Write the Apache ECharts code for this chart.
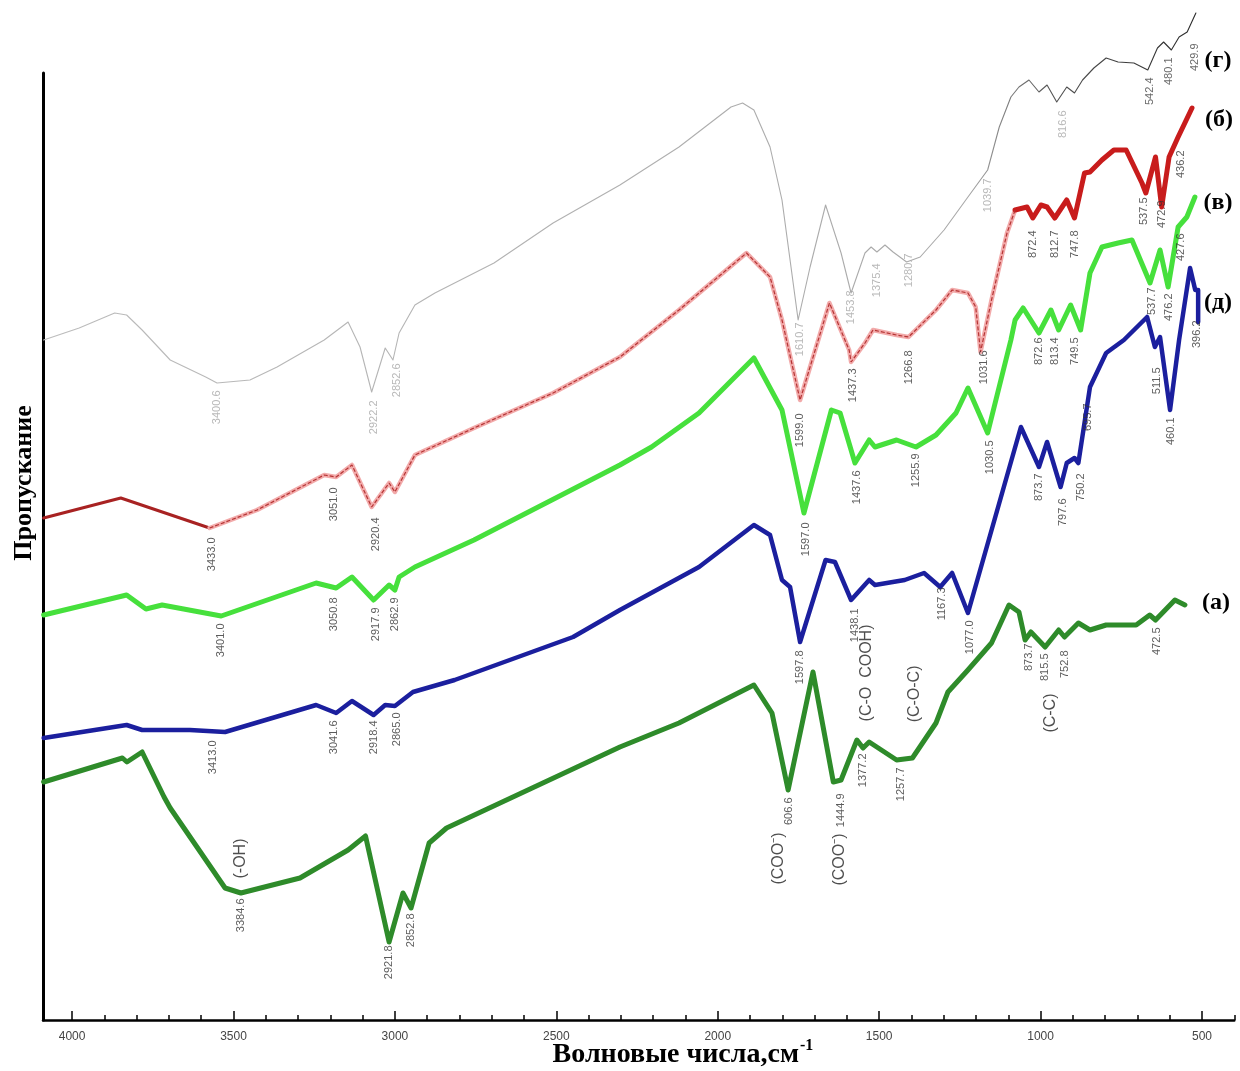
<!DOCTYPE html>
<html>
<head>
<meta charset="utf-8">
<title>ИК-спектры</title>
<script src="https://cdn.jsdelivr.net/npm/echarts@6/dist/echarts.min.js"></script>
<style>
html, body { margin: 0; padding: 0; background: #fff; }
#chartmain { width: 1240px; height: 1071px; }
</style>
</head>
<body>
<div id="chartmain"></div>
<script>
// спектры: [волновое число, пропускание (усл. ед.)]
var grayData = [[4088,680],[3978,692],[3868,707],[3831,705],[3783,690],[3696,660],[3586,643],[3551,637],[3449,640],[3365,653],[3219,680],[3145,698],[3108,673],[3072,628],[3030,672],[3006,660],[2987,687],[2938,715],[2876,727],[2693,757],[2510,797],[2303,835],[2120,873],[1959,913],[1923,917],[1888,910],[1838,873],[1801,820],[1751,700],[1714,753],[1666,815],[1618,767],[1587,727],[1544,767],[1525,773],[1507,768],[1482,775],[1457,768],[1415,758],[1373,763],[1299,790],[1225,823],[1164,850],[1128,893],[1092,923],[1067,933],[1036,940],[1005,928],[980,935],[950,918],[919,933],[895,927],[870,940],[835,952],[797,962],[760,958],[711,957],[668,950],[638,972],[619,978],[595,970],[571,983],[546,988],[519,1007]];

var redData = [[4088,502],[3849,522],[3574,492],[3427,510],[3219,545],[3182,543],[3133,555],[3072,513],[3018,537],[3000,528],[2938,565],[2755,592],[2510,627],[2303,663],[2120,710],[1911,767],[1838,743],[1801,700],[1745,620],[1654,717],[1593,670],[1587,658],[1544,677],[1519,690],[1446,685],[1409,683],[1324,710],[1274,730],[1225,727],[1201,713],[1186,668],[1152,720],[1104,787],[1079,810],[1042,813],[1024,802],[999,815],[980,813],[956,802],[919,820],[895,802],[864,847],[847,848],[810,860],[773,870],[735,870],[686,837],[674,827],[644,863],[625,813],[602,863],[574,883],[531,912]];

var lightGreenData = [[4088,405],[3831,425],[3771,411],[3721,415],[3538,404],[3244,437],[3182,432],[3133,443],[3066,420],[3018,435],[3000,430],[2987,443],[2938,453],[2755,480],[2303,555],[2205,573],[2058,607],[1888,662],[1801,610],[1733,507],[1648,610],[1621,607],[1575,557],[1531,580],[1513,573],[1446,580],[1386,573],[1324,585],[1262,607],[1225,632],[1164,587],[1092,680],[1079,700],[1054,712],[1005,687],[968,710],[944,690],[907,715],[876,690],[847,747],[810,773],[760,777],[717,780],[661,737],[630,770],[605,733],[574,793],[547,803],[522,823]];

var blueData = [[4088,282],[3831,295],[3783,290],[3635,290],[3526,288],[3244,315],[3182,307],[3133,319],[3066,305],[3030,315],[3000,314],[2944,328],[2815,340],[2448,383],[2303,410],[2058,453],[1888,495],[1838,485],[1801,440],[1776,433],[1745,378],[1666,460],[1637,458],[1587,420],[1531,440],[1513,435],[1421,440],[1361,447],[1311,433],[1274,447],[1225,407],[1061,593],[1005,553],[980,578],[938,533],[919,557],[895,562],[883,557],[847,633],[797,667],[742,680],[670,703],[646,673],[630,683],[599,610],[571,680],[537,752],[521,730],[512,730],[512,698]];

var darkGreenData = [[4088,238],[3844,262],[3830,258],[3783,268],[3715,223],[3696,212],[3526,132],[3477,127],[3294,142],[3145,170],[3091,184],[3018,78],[2975,127],[2950,112],[2894,177],[2840,192],[2303,273],[2120,297],[1888,335],[1832,307],[1782,230],[1705,348],[1642,238],[1618,240],[1569,280],[1550,272],[1531,278],[1446,260],[1397,262],[1324,297],[1287,328],[1225,350],[1152,377],[1098,415],[1067,408],[1048,380],[1030,388],[986,373],[944,390],[926,383],[883,397],[847,390],[797,395],[704,395],[662,405],[644,400],[584,420],[553,415]];

// подписи пиков: [волновое число, пропускание, текст]
var grayLabels = [[3551,630,'3400.6'],[3066,620,'2922.2'],[2993,657,'2852.6'],[1745,698,'1610.7'],[1587,730,'1453.8'],[1507,757,'1375.4'],[1409,767,'1280.7'],[1164,842,'1039.7'],[932,910,'816.6']];
var grayLabelsDark = [[661,943,'542.4'],[601,963,'480.1'],[521,977,'429.9']];
var redLabels = [[3568,483,'3433.0'],[3188,533,'3051.0'],[3060,503,'2920.4'],[1745,607,'1599.0'],[1581,652,'1437.3'],[1409,670,'1266.8'],[1176,670,'1031.6'],[1023,790,'872.4'],[956,790,'812.7'],[895,790,'747.8'],[681,823,'537.5'],[625,820,'472.9'],[565,870,'436.2']];
var lightGreenLabels = [[3538,397,'3401.0'],[3188,423,'3050.8'],[3060,413,'2917.9'],[3000,423,'2862.9'],[1727,498,'1597.0'],[1569,550,'1437.6'],[1386,567,'1255.9'],[1158,580,'1030.5'],[1005,683,'872.6'],[956,683,'813.4'],[895,683,'749.5'],[656,733,'537.7'],[602,727,'476.2'],[565,787,'427.6']];
var blueLabels = [[3563,280,'3413.0'],[3188,300,'3041.6'],[3066,300,'2918.4'],[2993,308,'2865.0'],[1745,370,'1597.8'],[1575,412,'1438.1'],[1305,433,'1167.3'],[1219,400,'1077.0'],[1005,547,'873.7'],[932,522,'797.6'],[876,547,'750.2'],[853,617,'695.7'],[638,653,'511.5'],[596,603,'460.1'],[515,700,'396.2']];
var darkGreenLabels = [[3477,122,'3384.6'],[3018,75,'2921.8'],[2950,107,'2852.8'],[1779,223,'606.6'],[1618,227,'1444.9'],[1550,267,'1377.2'],[1434,253,'1257.7'],[1036,377,'873.7'],[986,367,'815.5'],[926,370,'752.8'],[638,393,'472.5']];
var groupLabels = [[3477,182,'(-OH)'],[1813,188,'(COO\u207B)'],[1623,187,'(COO\u207B)'],[1540,396,'(C-O  COOH)'],[1389,355,'(C-O-C)'],[968,327,'(C-C)']];

var pie = echarts.init(document.getElementById('chartmain'));

var redLeft = redData.filter(function (d) { return d[0] >= 3574; });
var redMid = redData.filter(function (d) { return d[0] <= 3574 && d[0] >= 1079; });
var redRight = redData.filter(function (d) { return d[0] <= 1079; });

function line(data, color, width, extra) {
    var s = {
        type: 'line', data: data, symbol: 'none', clip: false, silent: true,
        lineStyle: { color: color, width: width, join: 'round', cap: 'round' },
        z: 3
    };
    for (var k in extra) s[k] = extra[k];
    return s;
}

function labels(arr, color, size, extra) {
    var lab = {
        show: true, formatter: function (p) { return p.name; },
        position: 'bottom', distance: 0, rotate: 90, align: 'right', verticalAlign: 'middle',
        color: color, fontSize: size, fontFamily: 'Liberation Sans'
    };
    for (var k in extra) lab[k] = extra[k];
    return {
        type: 'scatter', symbolSize: 1, clip: false, silent: true, z: 6,
        itemStyle: { color: 'transparent' },
        data: arr.map(function (d) { return { value: [d[0], d[1]], name: d[2] }; }),
        label: lab
    };
}

var grayGrad = new echarts.graphic.LinearGradient(0, 0, 1, 0, [
    { offset: 0, color: '#bcbcbc' },
    { offset: 0.8, color: '#a8a8a8' },
    { offset: 0.87, color: '#555555' },
    { offset: 1, color: '#2a2a2a' }
]);

var option = {
    animation: false,
    backgroundColor: '#fff',
    grid: [
        { left: 43, right: 5.7, top: 73, bottom: 51, outerBoundsMode: 'none' },
        { left: 43, right: 38, top: 73, bottom: 51, outerBoundsMode: 'none' }
    ],
    xAxis: [
        {
            gridIndex: 0, type: 'value', inverse: true, min: 400, max: 4090, interval: 100,
            axisLine: { show: true, lineStyle: { color: '#000', width: 2.5 } },
            axisTick: { show: true, inside: true, length: 5, lineStyle: { color: '#000', width: 1.5 } },
            axisLabel: { show: false },
            splitLine: { show: false }
        },
        {
            gridIndex: 1, type: 'value', inverse: true, min: 500, max: 4090, interval: 500,
            axisLine: { show: false },
            axisTick: { show: true, inside: true, length: 9, lineStyle: { color: '#000', width: 1.5 } },
            axisLabel: {
                show: true, showMaxLabel: false, color: '#444', fontSize: 12, fontFamily: 'Liberation Sans', margin: 11,
                formatter: function (v) { return String(v); }
            },
            splitLine: { show: false }
        }
    ],
    yAxis: [
        {
            gridIndex: 0, type: 'value', min: 0, max: 947, position: 'left',
            axisLine: { show: true, onZero: false, lineStyle: { color: '#000', width: 3 } },
            axisTick: { show: false }, axisLabel: { show: false }, splitLine: { show: false }
        },
        {
            gridIndex: 1, type: 'value', min: 0, max: 947, show: false
        }
    ],
    series: [
        line(grayData, grayGrad, 1.1, { z: 2 }),
        line(redLeft, '#a82222', 3),
        line(redMid, '#f2aaaa', 4.5),
        line(redMid, '#b53434', 1.2, { lineStyle: { color: '#b53434', width: 1.2, type: [4, 2] }, z: 4 }),
        line(redRight, '#c81c1c', 5),
        line(lightGreenData, '#46e03c', 5),
        line(blueData, '#1b1f9e', 4.5),
        line(darkGreenData, '#2e8b2a', 5),
        labels(grayLabels, '#a6a6a6', 11),
        labels(grayLabelsDark, '#444', 11),
        labels(redLabels, '#333', 11),
        labels(lightGreenLabels, '#333', 11),
        labels(blueLabels, '#333', 11),
        labels(darkGreenLabels, '#333', 11),
        labels(groupLabels, '#222', 16, { backgroundColor: '#fff' })
    ],
    graphic: [
        { type: 'text', x: 24, y: 483, rotation: Math.PI / 2,
          style: { text: 'Пропускание', font: 'bold 26px "Liberation Serif"', fill: '#000', align: 'center', verticalAlign: 'middle' } },
        { type: 'text', x: 799, y: 1055,
          style: { text: 'Волновые числа,см', font: 'bold 28px "Liberation Serif"', fill: '#000', align: 'right', verticalAlign: 'middle' } },
        { type: 'text', x: 800, y: 1046,
          style: { text: '-1', font: 'bold 16px "Liberation Serif"', fill: '#000', align: 'left', verticalAlign: 'middle' } },
        { type: 'text', x: 1218, y: 61, style: { text: '(г)', font: 'bold 24px "Liberation Serif"', fill: '#000', align: 'center', verticalAlign: 'middle' } },
        { type: 'text', x: 1219, y: 120, style: { text: '(б)', font: 'bold 24px "Liberation Serif"', fill: '#000', align: 'center', verticalAlign: 'middle' } },
        { type: 'text', x: 1218, y: 203, style: { text: '(в)', font: 'bold 24px "Liberation Serif"', fill: '#000', align: 'center', verticalAlign: 'middle' } },
        { type: 'text', x: 1218, y: 303, style: { text: '(д)', font: 'bold 24px "Liberation Serif"', fill: '#000', align: 'center', verticalAlign: 'middle' } },
        { type: 'text', x: 1216, y: 603, style: { text: '(а)', font: 'bold 24px "Liberation Serif"', fill: '#000', align: 'center', verticalAlign: 'middle' } }
    ]
};
pie.setOption(option);
</script>
</body>
</html>
